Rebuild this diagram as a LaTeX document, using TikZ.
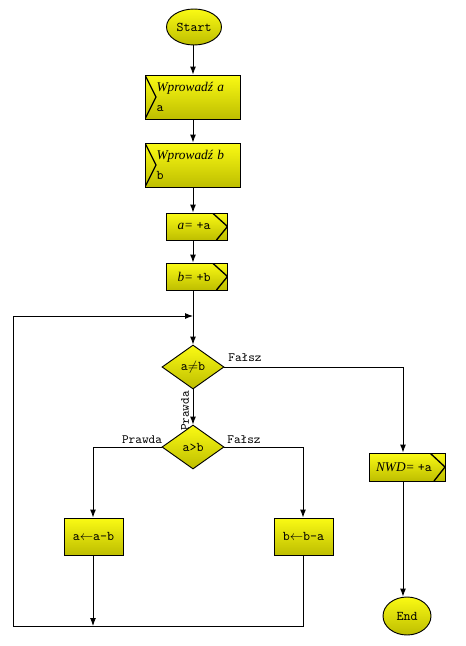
\documentclass[tikz,border=0pt]{standalone}
\usepackage{fontspec}
\setmainfont{Liberation Serif}
\usetikzlibrary{shapes.geometric,arrows.meta}
\definecolor{ytop}{RGB}{250,250,20}
\definecolor{ybot}{RGB}{190,190,0}
\begin{document}
\begin{tikzpicture}[x=0.75pt,y=-0.75pt,
  box/.style={draw=black, line width=0.7pt, top color=ytop, bottom color=ybot, inner sep=0pt},
  proc/.style={box, rectangle, minimum width=44.25pt, minimum height=27.75pt, font=\ttfamily\fontsize{10}{11}\selectfont},
  inbox/.style={box, rectangle, minimum width=71.25pt, minimum height=33pt, text width=54pt, align=left,
    font=\fontsize{10}{15}\selectfont,
    path picture={\draw[line width=1pt] (path picture bounding box.north west) -- ([xshift=8.25pt]path picture bounding box.west) -- (path picture bounding box.south west);}},
  outbox/.style={box, rectangle, minimum height=20.25pt, font=\fontsize{10}{11}\selectfont,
    path picture={\draw[line width=1pt] ([xshift=-11.25pt]path picture bounding box.north east) -- (path picture bounding box.east) -- ([xshift=-8.25pt]path picture bounding box.south east);}},
  dec/.style={box, diamond, minimum width=46.5pt, minimum height=33pt, font=\ttfamily\fontsize{10}{11}\selectfont},
  term/.style={box, ellipse, font=\ttfamily\fontsize{10}{11}\selectfont},
  arr/.style={line width=0.7pt, -{Latex[length=6pt,width=4.5pt]}},
  lin/.style={line width=0.7pt},
  lbl/.style={font=\ttfamily\fontsize{9.5}{10}\selectfont, inner sep=0pt}
]
\useasboundingbox (0,0) rectangle (465,646);
% nodes
\node[term, minimum width=41.25pt, minimum height=27pt] (start) at (194,27) {Start};
\node[inbox] (wa) at (192.5,97) {\textit{Wprowadź a}\\\texttt{a}};
\node[inbox] (wb) at (192.5,165) {\textit{Wprowadź b}\\\texttt{b}};
\node[outbox, minimum width=45.75pt] (aa) at (197,226.5) {\textit{a=} \texttt{+a}\hspace*{4.5pt}};
\node[outbox, minimum width=45.75pt] (bb) at (197,276.5) {\textit{b=} \texttt{+b}\hspace*{4.5pt}};
\node[dec] (d1) at (193,367) {a$\neq$b};
\node[lbl, rotate=90] (lp1) at (185,411) {Prawda};
\node[dec] (d2) at (193,447) {a>b};
\node[proc] (ab) at (93.5,536.5) {a$\leftarrow$a-b};
\node[proc] (ba) at (303.5,536.5) {b$\leftarrow$b-a};
\node[outbox, minimum width=57pt, minimum height=21pt] (nwd) at (407,467) {\textit{NWD=} \texttt{+a}\hspace*{4.5pt}};
\node[term, minimum width=36pt, minimum height=28.5pt] (end) at (407,616) {End};
% labels
\node[lbl] (lf1) at (245,358) {Fałsz};
\node[lbl] (lp2) at (142,440) {Prawda};
\node[lbl] (lf2) at (244,440) {Fałsz};
% coordinates
\coordinate (j) at (193,316);
\coordinate (r1) at (403,367);
\coordinate (l2) at (93,447);
\coordinate (r2) at (303,447);
\coordinate (bl) at (13,626);
\coordinate (bm) at (93,626);
\coordinate (br) at (303,626);
% connectors
\draw[arr] (start.south -| j) -- (wa.north -| j);
\draw[arr] (wa.south -| j) -- (wb.north -| j);
\draw[arr] (wb.south -| j) -- (aa.north -| j);
\draw[arr] (aa.south -| j) -- (bb.north -| j);
\draw[lin] (bb.south -| j) -- (j);
\draw[arr] (j) -- (d1.north);
\draw[arr] (d1.south) -- (d2.north);
\draw[arr] (d1.east) -- (r1) -- (r1 |- nwd.north);
\draw[arr] (nwd.south -| r1) -- (r1 |- end.north);
\draw[arr] (d2.west) -- (l2) -- (l2 |- ab.north);
\draw[arr] (d2.east) -- (r2) -- (r2 |- ba.north);
\draw[arr] (ab.south -| bm) -- (bm);
\draw[arr] (ba.south -| br) -- (br) -- (bl) -- (bl |- j) -- (j);
\end{tikzpicture}
\end{document}
